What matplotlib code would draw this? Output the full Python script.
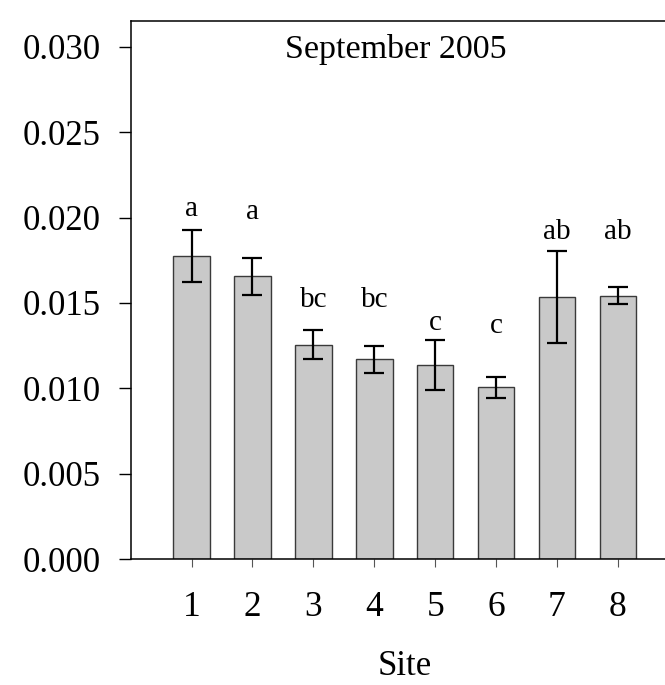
import numpy as np
import matplotlib
matplotlib.use('Agg')
import matplotlib.pyplot as plt

# data ########################################################################
sites = [1, 2, 3, 4, 5, 6, 7, 8]
means = [0.01775, 0.01656, 0.01254, 0.01170, 0.01137, 0.01006, 0.01537, 0.01542]
errors = [0.0015, 0.0011, 0.00085, 0.0008, 0.00145, 0.0006, 0.0027, 0.0005]
letters = ['a', 'a', 'bc', 'bc', 'c', 'c', 'ab', 'ab']
letter_y = [0.0201, 0.0199, 0.01475, 0.01475, 0.01342, 0.01322, 0.01873, 0.01873]
yticks = [0.000, 0.005, 0.010, 0.015, 0.020, 0.025, 0.030]
title = 'September 2005'
###############################################################################

plt.rcParams['font.family'] = 'serif'
plt.rcParams['font.serif'] = ['Liberation Serif', 'DejaVu Serif']

fig = plt.figure(figsize=(6.65, 6.85), dpi=100)
# axes runs past the right edge of the picture (cropped like the original)
ax = fig.add_axes([130.7/665, 126/685, 9*60.9/665, (559-20.7)/685])

ax.bar(sites, means, width=0.6, color='#c9c9c9', edgecolor='#3a3a3a',
       linewidth=1.0, zorder=2)
ax.errorbar(sites, means, yerr=errors, fmt='none', ecolor='black',
            elinewidth=1.6, capsize=7.5, capthick=1.6, zorder=3)

for x, lab, y in zip(sites, letters, letter_y):
    ax.text(x, y, lab, ha='center', va='baseline', fontsize=21)

ax.text(4.36, 0.02935, title, ha='center', va='baseline', fontsize=24.5)

ax.set_xlim(0, 9)
ax.set_ylim(0, 0.03154)
ax.set_xticks(sites)
ax.set_xticklabels([str(s) for s in sites])
ax.set_yticks(yticks)
ax.set_yticklabels(['%.3f' % v for v in yticks])

ax.tick_params(axis='y', direction='out', length=8.6, width=1.0, pad=13,
               labelsize=25)
ax.tick_params(axis='x', direction='out', length=5.8, width=0.8, pad=17,
               labelsize=25.5, color='#555555')

ax.spines['right'].set_visible(False)
for s in ['top', 'left', 'bottom']:
    ax.spines[s].set_linewidth(1.1)

ax.set_xlabel('Site', fontsize=25, labelpad=19)

plt.savefig('out.png', dpi=100)
